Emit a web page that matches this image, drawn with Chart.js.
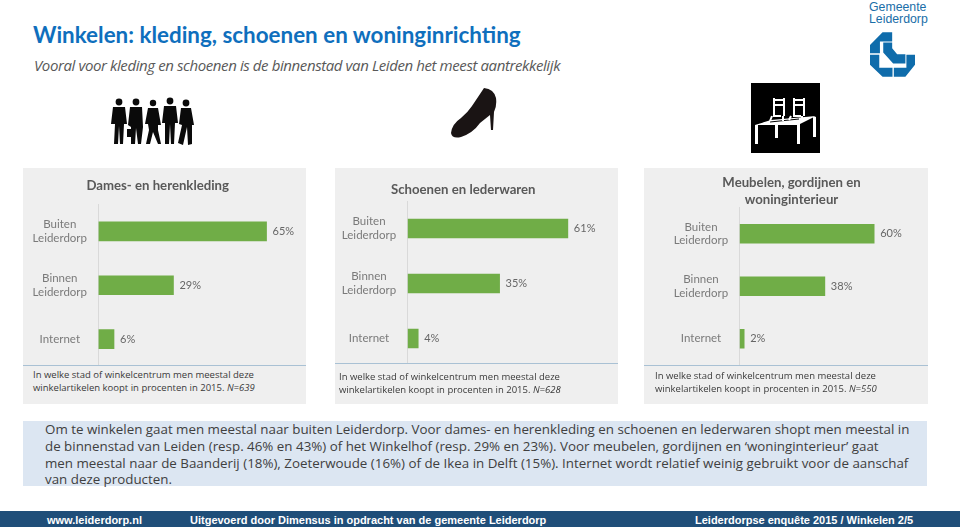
<!DOCTYPE html>
<html lang="nl">
<head>
<meta charset="utf-8">
<title>Winkelen: kleding, schoenen en woninginrichting</title>
<script src="https://cdn.jsdelivr.net/npm/chart.js@4"></script>
<style>
    html, body { margin: 0; padding: 0; background: #fff; }
    #page { position: relative; width: 960px; height: 527px; overflow: hidden; font-family: Lato, sans-serif; }
    #page > * { position: absolute; }

    h1 { margin: 0; left: 33px; top: 21px; font: bold 22.4px Lato, sans-serif; color: #0f6fbd; white-space: nowrap; }
    h2 { margin: 0; left: 34px; top: 55px; font: italic 15px "Open Sans", sans-serif; color: #595959; white-space: nowrap; letter-spacing: -.4px; }

    .panel { background: #efefef; top: 168px; height: 236px; width: 283px; }
    canvas { display: block; }
    .chart { top: 168px; }
    .note { background: #efefef; border-top: 1px solid #a9c1d4; width: 283px; height: 38px; color: #3a3a3a;
            font: 9.5px/12.8px "Open Sans", sans-serif; white-space: nowrap; box-sizing: border-box; }
    .note i { font-style: italic; }

    #summary { left: 23px; top: 421px; width: 904px; height: 65px; background: #dce6f2; }
    #summary div { position: absolute; left: 22px; white-space: nowrap; font: 13.35px/17px "Open Sans", sans-serif; color: #404040; }

    #footer { left: 0; top: 511px; width: 960px; height: 16px; background: #1f4e79; }
    #footer span { position: absolute; top: 1px; color: #fff; font: bold 11px/16px "Liberation Sans", sans-serif; white-space: nowrap; }

    #logoText { left: 869px; top: 1px; color: #1a6ea8; font: 12.3px/12px "Liberation Sans", sans-serif; white-space: nowrap; }
</style>
</head>
<body>
<div id="page">
    <h1>Winkelen: kleding, schoenen en woninginrichting</h1>
    <h2>Vooral voor kleding en schoenen is de binnenstad van Leiden het meest aantrekkelijk</h2>

    <div id="logoText">Gemeente<br>Leiderdorp</div>
    <svg style="left:870px;top:32px" width="45" height="45" viewBox="390 97 136 134" fill="#0f6cab">
        <polygon points="390,135 428,97 457,97 457,125 420,125 420,160 390,160"/>
        <polygon points="430,128 457,128 457,145 472,163 497,163 497,191 460,191 430,158"/>
        <polygon points="500,165 526,165 526,195 497,231 462,231 462,204 500,204"/>
        <polygon points="390,165 418,165 418,204 458,204 458,231 428,231 390,195"/>
    </svg>

    <!-- Iconen boven de panelen -->
    <svg style="left:111px;top:97px" width="84" height="50" viewBox="0 0 84 50" fill="#0a0a0a">
        <circle cx="8" cy="5" r="3.4"/><path d="M2 10 L14 10 L16 27 L13 27 L12 47 L9 47 L8 29 L7 47 L3 47 L4 27 L0 27 Z"/>
        <circle cx="25" cy="5" r="3.4"/><path d="M19 10 L31 10 L32 30 L30 47 L27 47 L25 31 L24 47 L20 47 L20 30 L17 28 Z"/><rect x="16" y="32" width="6" height="8"/>
        <circle cx="42" cy="6" r="3.2"/><path d="M37 11 L47 11 L50 28 L47 28 L47 33 L50 47 L47 47 L42 35 L39 47 L35 47 L38 33 L37 27 L34 27 Z"/>
        <circle cx="59" cy="4" r="3.4"/><path d="M53 9 L65 9 L67 26 L64 26 L63 47 L60 47 L59 27 L58 47 L54 47 L54 26 L51 26 Z"/>
        <circle cx="75" cy="6" r="3.4"/><path d="M70 11 L80 11 L83 28 L81 28 L81 47 L77 48 L76 30 L72 48 L67 46 L71 28 L68 27 Z"/>
    </svg>
    <svg style="left:451px;top:88px" width="46" height="50" viewBox="0 0 46 50" fill="#1a1414">
        <path d="M33 0 Q43 1 45 10 Q46 18 43 24 L42 42 L40 42 L39 27 Q34 31 29 35 Q22 45 10 49 Q1 51 0 45 Q1 36 10 30 Q17 24 21 18 Q27 9 33 0 Z"/>
    </svg>
    <svg style="left:751px;top:83px" width="69" height="70" viewBox="0 0 69 70">
        <rect width="69" height="70" fill="#000"/>
        <polygon points="4,42 20,37 65,33 47,42" fill="#fff"/>
        <g fill="none" stroke="#000" stroke-width="1">
            <path d="M19 39 L48 36"/>
        </g>
        <g fill="none" stroke="#fff" stroke-width="2">
            <path d="M23 15 L23 33 L30 33 M33 15 L33 33 M23 17 L33 17 M23 22 L33 22 M21 33 L19 38 M32 33 L32 38"/>
            <path d="M43 15 L43 33 L50 33 M53 15 L53 33 M43 17 L53 17 M43 22 L53 22 M40 33 L38 37 M51 33 L51 37"/>
        </g>
        <g fill="#fff">
            <rect x="4" y="42" width="3" height="19"/><rect x="24" y="42" width="3" height="13"/>
            <rect x="46" y="41" width="3" height="20"/><rect x="62" y="34" width="3" height="20"/>
        </g>
    </svg>

    <div class="panel" style="left:23px"></div>
    <div class="panel" style="left:335px"></div>
    <div class="panel" style="left:644px;width:284px"></div>

    <canvas class="chart" id="chartKleding" width="283" height="198" style="left:23px"></canvas>
    <canvas class="chart" id="chartSchoenen" width="283" height="198" style="left:335px"></canvas>
    <canvas class="chart" id="chartMeubelen" width="284" height="197" style="left:644px"></canvas>

    <div class="note" style="left:23px;top:365px;padding:3px 0 0 10px">In welke stad of winkelcentrum men meestal deze<br>winkelartikelen koopt in procenten in 2015. <i>N=639</i></div>
    <div class="note" style="left:335px;top:363px;height:41px;padding:7px 0 0 4px">In welke stad of winkelcentrum men meestal deze<br>winkelartikelen koopt in procenten in 2015. <i>N=628</i></div>
    <div class="note" style="left:644px;top:365px;width:284px;height:39px;padding:4px 0 0 11px">In welke stad of winkelcentrum men meestal deze<br>winkelartikelen koopt in procenten in 2015. <i>N=550</i></div>

    <div id="summary">
        <div style="top:0">Om te winkelen gaat men meestal naar buiten Leiderdorp. Voor dames- en herenkleding en schoenen en lederwaren shopt men meestal in</div>
        <div style="top:17px">de binnenstad van Leiden (resp. 46% en 43%) of het Winkelhof (resp. 29% en 23%). Voor meubelen, gordijnen en ‘woninginterieur’ gaat</div>
        <div style="top:34px">men meestal naar de Baanderij (18%), Zoeterwoude (16%) of de Ikea in Delft (15%). Internet wordt relatief weinig gebruikt voor de aanschaf</div>
        <div style="top:50px">van deze producten.</div>
    </div>

    <div id="footer">
        <span style="left:47px">www.leiderdorp.nl</span>
        <span style="left:190px">Uitgevoerd door Dimensus in opdracht van de gemeente Leiderdorp</span>
        <span style="left:695px">Leiderdorpse enquête 2015 / Winkelen 2/5</span>
    </div>
</div>

<script>
    const categories = [['Buiten', 'Leiderdorp'], ['Binnen', 'Leiderdorp'], 'Internet'];

    const kledingValues = [65, 29, 6];
    const schoenenValues = [61, 35, 4];
    const meubelenValues = [60, 38, 2];

    const kledingTitle = 'Dames- en herenkleding';
    const schoenenTitle = 'Schoenen en lederwaren';
    const meubelenTitle = ['Meubelen, gordijnen en', 'woninginterieur'];

    const barColor = '#70ad47';
    const labelColor = '#7a7a7a';

    /* ── Waardelabels naast de balken ───────────────────────────────── */

    const valueLabels = {
        id: 'valueLabels',
        afterDatasetsDraw(chart) {
            const ctx = chart.ctx;
            const bars = chart.getDatasetMeta(0).data;
            ctx.save();
            ctx.font = '11px Lato';
            ctx.fillStyle = '#666';
            ctx.textAlign = 'left';
            ctx.textBaseline = 'middle';
            bars.forEach((bar, i) => {
                ctx.fillText(chart.data.datasets[0].data[i] + '%', bar.x + 6, bar.y);
            });
            ctx.restore();
        }
    };

    /* ── Grafiek per paneel ─────────────────────────────────────────── */

    function drawPanel(id, title, values, xMax, layout) {
        new Chart(document.getElementById(id), {
            type: 'bar',
            data: {
                labels: categories,
                datasets: [{
                    data: values,
                    backgroundColor: barColor,
                    barThickness: 19
                }]
            },
            plugins: [valueLabels],
            options: {
                indexAxis: 'y',
                responsive: false,
                animation: false,
                layout: { padding: { left: layout.left, right: layout.right, top: 0, bottom: 0 } },
                plugins: {
                    legend: { display: false },
                    tooltip: { enabled: false },
                    title: {
                        display: true,
                        text: title,
                        color: '#595959',
                        font: { family: 'Lato', size: 13.2, weight: 'bold', lineHeight: 1.25 },
                        padding: { top: layout.titleTop, bottom: layout.titleBottom }
                    }
                },
                scales: {
                    x: { display: false, min: 0, max: xMax },
                    y: {
                        // vaste plek voor de as, en geen extra ruimte voor de tweeregelige labels
                        afterFit(scale) {
                            scale.width = layout.axisWidth;
                            scale.paddingTop = 0;
                            scale.paddingBottom = 0;
                        },
                        grid: { display: false, drawTicks: false },
                        border: { display: true, color: '#d9d9d9' },
                        ticks: {
                            crossAlign: 'center',
                            padding: 11.5,
                            color: labelColor,
                            font: { family: 'Lato', size: 11.5 },
                            autoSkip: false
                        }
                    }
                }
            }
        });
    }

    drawPanel('chartKleding', kledingTitle, kledingValues, 75,
        { left: 0, right: 13.6, axisWidth: 75.5, titleTop: 9, titleBottom: 11 });
    drawPanel('chartSchoenen', schoenenTitle, schoenenValues, 70,
        { left: 0, right: 26.5, axisWidth: 72.7, titleTop: 13, titleBottom: 3.5 });
    drawPanel('chartMeubelen', meubelenTitle, meubelenValues, 80,
        { left: 20, right: 9, axisWidth: 75.7, titleTop: 6.5, titleBottom: 0 });
</script>
</body>
</html>
